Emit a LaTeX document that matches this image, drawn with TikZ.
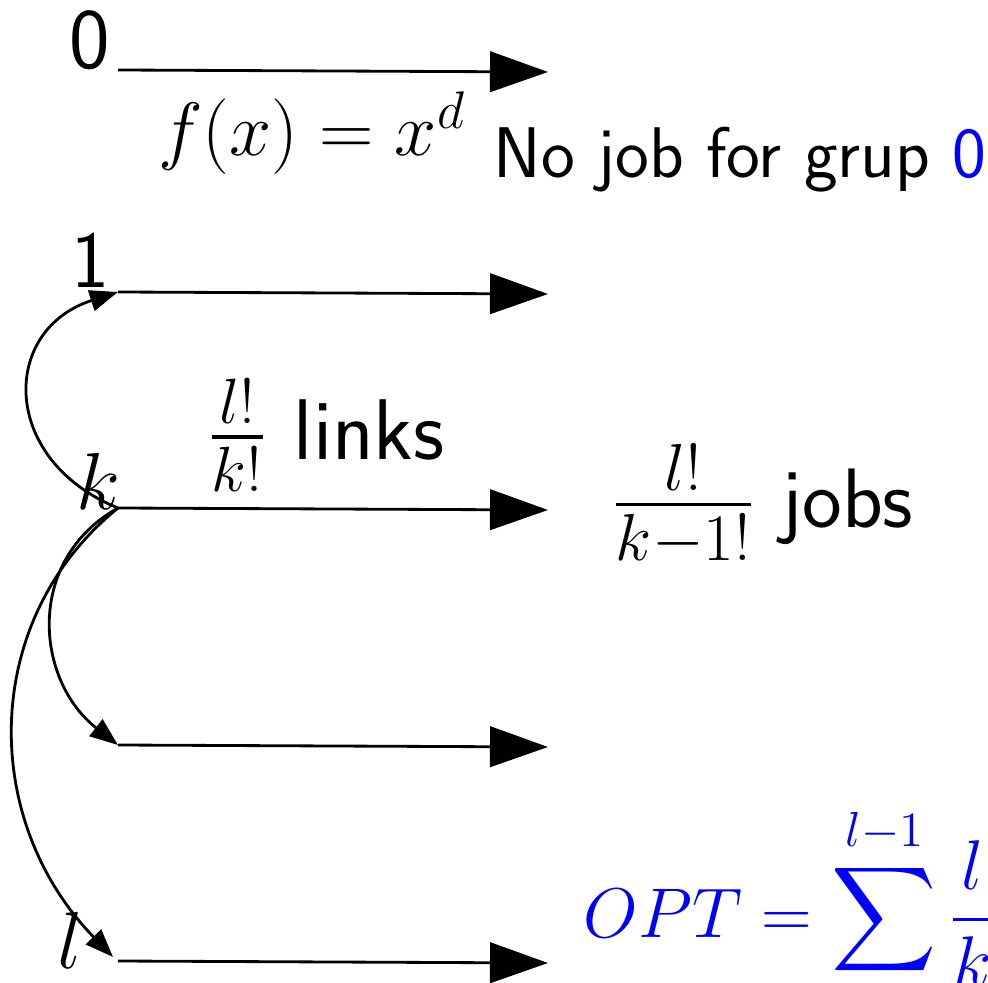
\RequirePackage{fix-cm}
\documentclass[tikz,border=0pt]{standalone}
\usepackage{amsmath}
\usepackage{xcolor}
\usetikzlibrary{arrows.meta}

\begin{document}
\begin{tikzpicture}[
  x=0.01cm, y=-0.01cm,
  lbl/.style={inner sep=0, font=\sffamily\fontsize{23}{27}\selectfont},
  note/.style={inner sep=0, anchor=base west, font=\sffamily\fontsize{24.5}{29}\selectfont},
  row/.style={-{Triangle[length=16.5pt, width=11.5pt]}, line width=0.8pt},
  jump/.style={-{Triangle[length=8pt, width=6pt]}, line width=0.8pt}
]
\useasboundingbox (0,0) rectangle (988,983);
\clip (0,0) rectangle (988,983);
% group rows
\coordinate (s0) at (118,70);  \coordinate (e0) at (548,72);
\coordinate (s1) at (118,292); \coordinate (e1) at (548,294);
\coordinate (sk) at (118,508); \coordinate (ek) at (548,510);
\coordinate (sm) at (118,745); \coordinate (em) at (548,747);
\coordinate (sl) at (118,961); \coordinate (el) at (548,963);
\coordinate (tl) at (113,957);
\draw[row] (s0)--(e0); \draw[row] (s1)--(e1); \draw[row] (sk)--(ek);
\draw[row] (sm)--(em); \draw[row] (sl)--(el);

% group labels
\node[lbl, font=\sffamily\fontsize{24.5}{29}\selectfont] (n0) at (90,40)  {0};
\node[lbl] (n1) at (91,260) {1};
\node[lbl] (nk) at (98,481) {$k$};
\node[lbl] (nl) at (70,940) {$l$};

% links out of group k
\draw[jump] (sk) .. controls (0,460) and (0,330) .. (s1);
\draw[jump] (sk) .. controls (25,560) and (35,680) .. (sm);
\draw[jump] (sk) .. controls (-20,620) and (-20,820) .. (tl);

% texts
\node[lbl, font=\fontsize{21.5}{26}\selectfont] (fx) at (312,133) {$f(x) = x^d$};
\node[note, font=\sffamily\fontsize{20.4}{24}\selectfont] (none) at (493,178)
  {No job for grup \textcolor{blue}{0}};
\node[note] (links) at (207,460) {{\fontsize{26}{30}\selectfont$\frac{l!}{k!}$} links};
\node[note, font=\sffamily\fontsize{24}{28}\selectfont] (jobs) at (611,528)
  {{\fontsize{27}{32}\selectfont$\frac{l!}{k-1!}$} jobs};
\node[anchor=base west, inner sep=0, text=blue, font=\fontsize{20}{24}\selectfont]
  (opt) at (583,937) {$\displaystyle OPT = \sum_{k=1}^{l-1} \frac{l!}{k!}$};
\end{tikzpicture}
\end{document}
